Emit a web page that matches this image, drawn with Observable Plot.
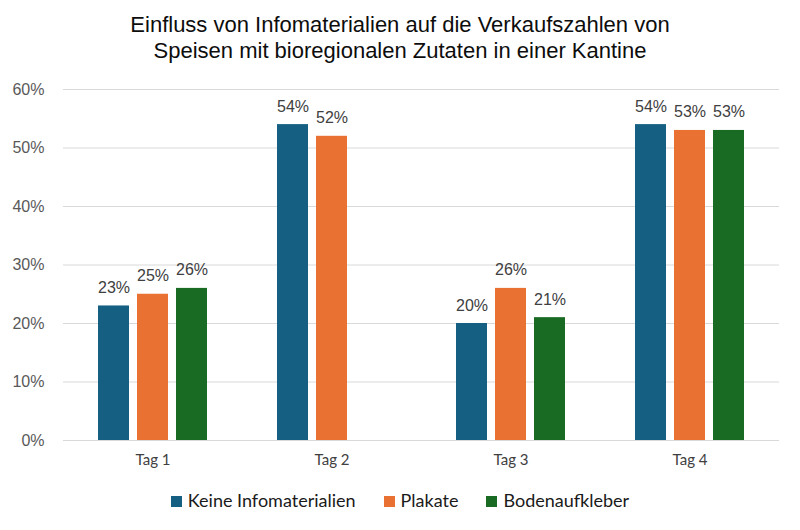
<!DOCTYPE html>
<html>
<head>
<meta charset="utf-8">
<script src="https://cdn.jsdelivr.net/npm/d3@7"></script>
<script src="https://cdn.jsdelivr.net/npm/@observablehq/plot@0.6"></script>
<style>
  html, body { margin: 0; padding: 0; background: #fff; }
  #wrap { width: 800px; height: 530px; position: relative; overflow: hidden; }
  #title { height: 75px; box-sizing: border-box; padding-top: 12px; text-align: center;
           font-family: "Liberation Sans", Arial, sans-serif; font-size: 22px; line-height: 26px; color: #0d0d0d; }
  #chart svg { display: block; }
  #legend { display: flex; justify-content: center; align-items: baseline; margin-top: 15px;
            font-family: Lato, "Open Sans", sans-serif; font-size: 18px; line-height: 20px; color: #1a1a1a; }
  .item { display: flex; align-items: baseline; margin: 0 14px; }
  .sw { width: 11px; height: 11px; display: inline-block; margin-right: 6px; }
</style>
</head>
<body>
<div id="wrap">
  <div id="title">Einfluss von Infomaterialien auf die Verkaufszahlen von<br>Speisen mit bioregionalen Zutaten in einer Kantine</div>
  <div id="chart"></div>
  <div id="legend"></div>
</div>
<script>
const tags = ["Tag 1", "Tag 2", "Tag 3", "Tag 4"];
const series = ["Keine Infomaterialien", "Plakate", "Bodenaufkleber"];
const keine = [23, 54, 20, 54];
const plakate = [25, 52, 26, 53];
const boden = [26, null, 21, 53];
const colors = ["#156082", "#E97132", "#196B24"];
const yTicks = [0, 10, 20, 30, 40, 50, 60];

const seriesValues = [keine, plakate, boden];
const data = [];
tags.forEach((t, i) => {
  series.forEach((s, j) => {
    const v = seriesValues[j][i];
    if (v != null) data.push({tag: t, series: s, value: v});
  });
});

const chart = Plot.plot({
  width: 800,
  height: 400,
  marginTop: 14,
  marginBottom: 35,
  marginLeft: 62,
  marginRight: 20,
  style: {background: "transparent"},
  fx: {domain: tags, padding: 0, label: null},
  x: {domain: series, paddingInner: 0.2, paddingOuter: 0.867, axis: null},
  y: {domain: [0, 60]},
  color: {domain: series, range: colors},
  marks: [
    Plot.gridY(yTicks, {stroke: "#d9d9d9", strokeOpacity: 1, strokeWidth: 1}),
    Plot.axisY(yTicks, {anchor: "left", tickSize: 0, tickPadding: 19, label: null, tickFormat: d => d + "%",
      fill: "#595959", fontSize: 16, fontFamily: "Liberation Sans, Arial, sans-serif"}),
    Plot.barY(data, {fx: "tag", x: "series", y: "value", fill: "series"}),
    Plot.text(data, {fx: "tag", x: "series", y: "value", text: d => d.value + "%", lineAnchor: "bottom", dy: -13,
      fill: "#404040", fontSize: 16, fontFamily: "Liberation Sans, Arial, sans-serif"}),
    Plot.axisFx({anchor: "bottom", tickSize: 0, tickPadding: 14, label: null, fontSize: 15,
      fontFamily: "Lato, sans-serif", fill: "#404040"})
  ]
});
document.getElementById("chart").appendChild(chart);

const legend = document.getElementById("legend");
series.forEach((s, j) => {
  const item = document.createElement("div");
  item.className = "item";
  const sw = document.createElement("span");
  sw.className = "sw";
  sw.style.background = colors[j];
  const lab = document.createElement("span");
  lab.textContent = s;
  item.appendChild(sw);
  item.appendChild(lab);
  legend.appendChild(item);
});
</script>
</body>
</html>
